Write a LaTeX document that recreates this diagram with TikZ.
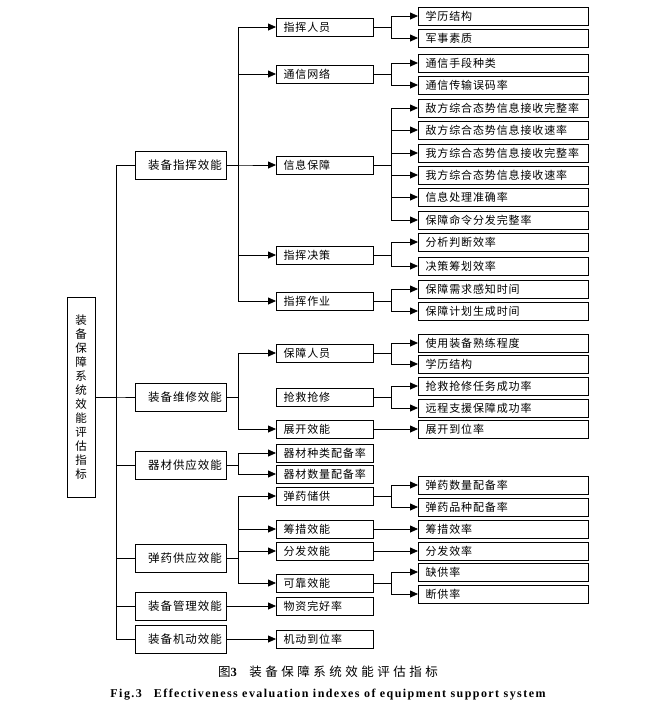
\documentclass[tikz,border=0pt]{standalone}
\usepackage{fontspec}
\setmainfont{Liberation Serif}
\newfontfamily\cjk[LetterSpace=8]{Noto Sans CJK SC}
\newfontfamily\capcjk[LetterSpace=28]{Noto Sans CJK SC}
\newfontfamily\capfont[LetterSpace=12]{Liberation Serif}
\usetikzlibrary{arrows.meta,positioning}
\tikzset{
root_box/.style={
	% The shape:
	rectangle,
	% The size:
	minimum width=28pt,
	minimum height=200pt,
	inner sep=0pt,
	% The border:
	draw=black,
	line width=1pt,
	% Font
	font=\cjk\fontsize{11.5}{14}\selectfont,
	align=center
},
l1_box/.style={
	% The shape:
	rectangle,
	anchor=west,
	% The size:
	minimum width=91pt,
	minimum height=28pt,
	inner sep=0pt,
	% The border:
	draw=black,
	line width=1pt,
	% Font
	font=\cjk\fontsize{11.5}{13}\selectfont
},
l2_box/.style={
	% The shape:
	rectangle,
	anchor=west,
	% The size:
	text width=83pt,
	inner xsep=7pt,
	inner ysep=0pt,
	minimum height=18pt,
	% The border:
	draw=black,
	line width=1pt,
	% Font
	font=\cjk\fontsize{11}{13}\selectfont,
	align=left
},
l3_box/.style={
	l2_box,
	text width=156pt
},
trunk/.style={line width=0.8pt},
link/.style={line width=0.8pt, -{Triangle[length=8pt,width=7pt]}},
cap_cn/.style={font=\capcjk\fontsize{12.5}{14}\selectfont},
cap_en/.style={font=\capfont\bfseries\fontsize{12}{14}\selectfont}
}
\begin{document}
\begin{tikzpicture}[x=1pt, y=-1pt]
\useasboundingbox (0,0) rectangle (664,713);
% root
\node[root_box] (root) at (81,397) {装\\备\\保\\障\\系\\统\\效\\能\\评\\估\\指\\标};
% first level
\node[l1_box] (cmd) at (135,165) {\hspace{8pt}装备指挥效能};
\node[l1_box] (mnt) at (135,397) {\hspace{8pt}装备维修效能};
\node[l1_box] (mat) at (135,465) {\hspace{8pt}器材供应效能};
\node[l1_box] (amm) at (135,558) {\hspace{8pt}弹药供应效能};
\node[l1_box] (mgt) at (135,606) {\hspace{8pt}装备管理效能};
\node[l1_box] (mob) at (135,639) {\hspace{8pt}装备机动效能};
% second level
\node[l2_box] (cmd_pers) at (276,27) {指挥人员};
\node[l2_box] (cmd_net) at (276,74) {通信网络};
\node[l2_box] (cmd_info) at (276,165) {信息保障};
\node[l2_box] (cmd_dec) at (276,255) {指挥决策};
\node[l2_box] (cmd_op) at (276,301) {指挥作业};
\node[l2_box] (mnt_pers) at (276,353) {保障人员};
\node[l2_box] (mnt_rep) at (276,397) {抢救抢修};
\node[l2_box] (mnt_dep) at (276,429) {展开效能};
\node[l2_box] (mat_kind) at (276,453) {器材种类配备率};
\node[l2_box] (mat_qty) at (276,474) {器材数量配备率};
\node[l2_box] (amm_store) at (276,496) {弹药储供};
\node[l2_box] (amm_raise) at (276,529) {筹措效能};
\node[l2_box] (amm_dist) at (276,551) {分发效能};
\node[l2_box] (amm_rel) at (276,583) {可靠效能};
\node[l2_box] (mgt_rate) at (276,606) {物资完好率};
\node[l2_box] (mob_rate) at (276,639) {机动到位率};
% third level
\node[l3_box] (pers_a) at (418,16) {学历结构};
\node[l3_box] (pers_b) at (418,38) {军事素质};
\node[l3_box] (net_a) at (418,63) {通信手段种类};
\node[l3_box] (net_b) at (418,85) {通信传输误码率};
\node[l3_box] (info_a) at (418,108) {敌方综合态势信息接收完整率};
\node[l3_box] (info_b) at (418,130) {敌方综合态势信息接收速率};
\node[l3_box] (info_c) at (418,153) {我方综合态势信息接收完整率};
\node[l3_box] (info_d) at (418,175) {我方综合态势信息接收速率};
\node[l3_box] (info_e) at (418,197) {信息处理准确率};
\node[l3_box] (info_f) at (418,220) {保障命令分发完整率};
\node[l3_box] (dec_a) at (418,242) {分析判断效率};
\node[l3_box] (dec_b) at (418,266) {决策筹划效率};
\node[l3_box] (op_a) at (418,289) {保障需求感知时间};
\node[l3_box] (op_b) at (418,311) {保障计划生成时间};
\node[l3_box] (mp_a) at (418,343) {使用装备熟练程度};
\node[l3_box] (mp_b) at (418,364) {学历结构};
\node[l3_box] (rep_a) at (418,386) {抢救抢修任务成功率};
\node[l3_box] (rep_b) at (418,408) {远程支援保障成功率};
\node[l3_box] (dep_a) at (418,429) {展开到位率};
\node[l3_box] (store_a) at (418,485) {弹药数量配备率};
\node[l3_box] (store_b) at (418,507) {弹药品种配备率};
\node[l3_box] (raise_a) at (418,529) {筹措效率};
\node[l3_box] (dist_a) at (418,551) {分发效率};
\node[l3_box] (rel_a) at (418,572) {缺供率};
\node[l3_box] (rel_b) at (418,594) {断供率};
% trunk
\foreach \c in {cmd,mnt,mat,amm,mgt,mob}
	\draw[trunk] (root.east) -- ++(21,0) |- (\c.west);
% first level to second level
\foreach \c in {cmd_pers,cmd_net,cmd_info,cmd_dec,cmd_op}
	\draw[link] (cmd.east) -- ++(11,0) |- (\c.west);
\foreach \c in {mnt_pers,mnt_dep}
	\draw[link] (mnt.east) -- ++(11,0) |- (\c.west);
\foreach \c in {mat_kind,mat_qty}
	\draw[link] (mat.east) -- ++(11,0) |- (\c.west);
\foreach \c in {amm_store,amm_raise,amm_dist,amm_rel}
	\draw[link] (amm.east) -- ++(11,0) |- (\c.west);
\draw[link] (mgt.east) -- (mgt.east -| mgt_rate.west);
\draw[link] (mob.east) -- (mob.east -| mob_rate.west);
% second level to third level
\foreach \p/\c in {cmd_pers/pers_a,cmd_pers/pers_b,cmd_net/net_a,cmd_net/net_b,
		cmd_info/info_a,cmd_info/info_b,cmd_info/info_c,cmd_info/info_d,
		cmd_info/info_e,cmd_info/info_f,cmd_dec/dec_a,cmd_dec/dec_b,
		cmd_op/op_a,cmd_op/op_b,mnt_pers/mp_a,mnt_pers/mp_b,
		mnt_rep/rep_a,mnt_rep/rep_b,amm_store/store_a,amm_store/store_b,
		amm_rel/rel_a,amm_rel/rel_b}
	\draw[link] (\p.east) -- ++(17,0) |- (\c.west);
\draw[link] (mnt_dep.east) -- (mnt_dep.east -| dep_a.west);
\draw[link] (amm_raise.east) -- (amm_raise.east -| raise_a.west);
\draw[link] (amm_dist.east) -- (amm_dist.east -| dist_a.west);
% caption
\node[cap_cn] (fig_cn) at (328,672) {图{\capfont\bfseries 3}\quad 装备保障系统效能评估指标};
\node[cap_en] (fig_en) at (328,695) {Fig.3\quad Effectiveness evaluation indexes of equipment support system};
\end{tikzpicture}
\end{document}
